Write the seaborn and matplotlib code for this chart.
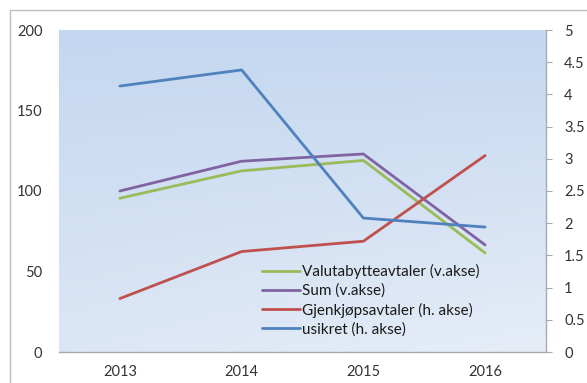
import numpy as np
import pandas as pd
import matplotlib
matplotlib.use("Agg")
import matplotlib.pyplot as plt
from matplotlib.lines import Line2D
from matplotlib.patches import Rectangle
import seaborn as sns

years = ["2013", "2014", "2015", "2016"]
valuta = [95.5, 112.5, 119, 61.5]          # left axis
total = [100, 118.5, 123, 66.5]            # left axis
gjenkjop = [0.83, 1.56, 1.72, 3.05]        # right axis
usikret = [4.13, 4.38, 2.08, 1.94]         # right axis

labels = ["Valutabytteavtaler (v.akse)", "Sum (v.akse)",
          "Gjenkjøpsavtaler (h. akse)", "usikret (h. akse)"]
colors = ["#9bbb59", "#8064a2", "#c0504d", "#4f81bd"]

sns.set_style("white")
plt.rcParams["font.family"] = ["Lato", "DejaVu Sans"]

W, H = 587, 383
fig = plt.figure(figsize=(W / 100, H / 100), dpi=100)
fig.patch.set_facecolor("white")

# outer chart frame (top and left edges visible)
fig.add_artist(Rectangle((10 / W, -0.1), 1.2, 1 - 10 / H + 0.1,
                         transform=fig.transFigure, fill=False,
                         edgecolor="#b9bec6", linewidth=1.0))

L, R, T, B = 59, 546, 30, 352
ax = fig.add_axes([L / W, 1 - B / H, (R - L) / W, (B - T) / H])
ax2 = ax.twinx()

# soft blue gradient behind the plot
grad = np.linspace(0, 1, 256)
gx, gy = np.meshgrid(grad, grad)
t = np.clip(0.7 * gy + 0.3 * gx * gy, 0, 1)
top = np.array([196, 215, 240]) / 255
bot = np.array([230, 237, 247]) / 255
img = top[None, None, :] * (1 - t[..., None]) + bot[None, None, :] * t[..., None]
ax.imshow(img, extent=[0, 1, 0, 1], transform=ax.transAxes,
          aspect="auto", zorder=0, origin="upper")

xpos = np.arange(len(years))
left_df = pd.DataFrame({"x": np.tile(xpos, 2),
                        "y": valuta + total,
                        "serie": [labels[0]] * 4 + [labels[1]] * 4})
right_df = pd.DataFrame({"x": np.tile(xpos, 2),
                         "y": gjenkjop + usikret,
                         "serie": [labels[2]] * 4 + [labels[3]] * 4})

sns.lineplot(data=left_df, x="x", y="y", hue="serie",
             palette={labels[0]: colors[0], labels[1]: colors[1]},
             linewidth=2.0, ax=ax, legend=False, zorder=3)
sns.lineplot(data=right_df, x="x", y="y", hue="serie",
             palette={labels[2]: colors[2], labels[3]: colors[3]},
             linewidth=2.0, ax=ax2, legend=False, zorder=3)

ax.set_xlim(-0.5, 3.5)
ax.set_ylim(0, 200)
ax2.set_ylim(0, 5)
ax.set_xticks(xpos)
ax.set_xticklabels(years)
ax.set_yticks([0, 50, 100, 150, 200])
ax2.set_yticks(np.arange(0, 5.01, 0.5))
ax2.set_yticklabels(["0", "0.5", "1", "1.5", "2", "2.5", "3", "3.5", "4", "4.5", "5"])
ax.set_xlabel("")
ax.set_ylabel("")
ax2.set_xlabel("")
ax2.set_ylabel("")

ax.set_facecolor("none")
ax2.set_facecolor("none")
for a in (ax, ax2):
    for s in a.spines.values():
        s.set_visible(False)
ax.spines["bottom"].set_visible(True)
ax.spines["bottom"].set_color("#a6aab0")
ax.spines["bottom"].set_linewidth(1.0)
ax2.spines["right"].set_visible(True)
ax2.spines["right"].set_color("#a6aab0")
ax2.spines["right"].set_linewidth(1.0)

tick_col = "#333333"
ax.tick_params(axis="x", length=0, pad=9, labelsize=10.5, labelcolor=tick_col)
ax.tick_params(axis="y", left=False, length=0, pad=12, labelsize=10.5, labelcolor=tick_col)
ax2.tick_params(axis="y", right=True, length=4, width=0.8, color="#a6aab0",
                pad=9, labelsize=10.5, labelcolor=tick_col)

handles = [Line2D([0], [0], color=c, linewidth=2.0) for c in colors]
ax.legend(handles, labels, loc="upper left", bbox_to_anchor=((256 - L) / (R - L), (B - 258) / (B - T)),
          frameon=False, fontsize=11, handlelength=2.5, handletextpad=0.1,
          labelspacing=0.3, borderaxespad=0, labelcolor="#1a1a1a")

fig.savefig("out.png", dpi=100)
